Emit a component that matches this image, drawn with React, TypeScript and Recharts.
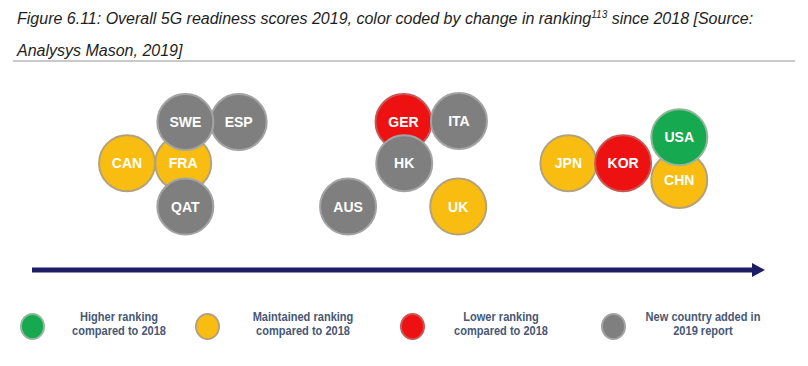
import { Legend, Scatter, ScatterChart, XAxis, YAxis } from "recharts";

// readiness position (x) and vertical placement (y)
const maintainedCountries = [
  { code: "FRA", x: 21.0, y: 53.4 },
  { code: "CAN", x: 13.2, y: 53.4 },
  { code: "UK", x: 59.2, y: 31.7 },
  { code: "JPN", x: 74.5, y: 53.4 },
  { code: "CHN", x: 89.9, y: 45.0 },
];
const lowerCountries = [
  { code: "GER", x: 51.6, y: 74.0 },
  { code: "KOR", x: 82.1, y: 53.4 },
];
const newCountries = [
  { code: "ESP", x: 28.7, y: 74.0 },
  { code: "SWE", x: 21.3, y: 74.0 },
  { code: "QAT", x: 21.3, y: 31.7 },
  { code: "ITA", x: 59.3, y: 74.5 },
  { code: "HK", x: 51.7, y: 53.4 },
  { code: "AUS", x: 43.9, y: 31.7 },
];
const higherCountries = [{ code: "USA", x: 89.9, y: 66.4 }];

const legendKeys = ["higher", "maintained", "lower", "new"];
const legendLines = [
  ["Higher ranking", "compared to 2018"],
  ["Maintained ranking", "compared to 2018"],
  ["Lower ranking", "compared to 2018"],
  ["New country added in", "2019 report"],
];

const COLORS: Record<string, string> = {
  higher: "#17a94f",
  maintained: "#f9bd12",
  lower: "#ee1111",
  new: "#7f7f7f",
};
const BORDERS: Record<string, string> = {
  higher: "#8fb79c",
  maintained: "#b3a27a",
  lower: "#c95555",
  new: "#a3a3a3",
};

// legend item placement (px)
const legendDotX = [32, 207, 412, 613];
const legendTextX = [119, 303, 501, 703];

const W = 808;
const H = 366;

function bubble(kind: string) {
  return (props: any) => {
    const { cx, cy, payload } = props;
    return (
      <g>
        <circle cx={cx} cy={cy} r={28} fill={COLORS[kind]} stroke={BORDERS[kind]} strokeWidth={2} />
        <text
          x={cx}
          y={cy}
          textAnchor="middle"
          dominantBaseline="central"
          fill="#ffffff"
          fontSize={14}
          fontWeight={700}
          fontFamily="'Liberation Sans', Arial, sans-serif"
        >
          {payload.code}
        </text>
      </g>
    );
  };
}

function LegendBlock() {
  return (
    <div style={{ position: "relative", width: W, height: 50 }}>
      {legendKeys.map((k, i) => (
        <div key={k}>
          <div
            style={{
              position: "absolute",
              left: legendDotX[i] - 12,
              top: 13,
              width: 21,
              height: 23,
              borderRadius: "50%",
              background: COLORS[k],
              border: `2px solid ${BORDERS[k]}`,
            }}
          />
          <div
            style={{
              position: "absolute",
              left: legendTextX[i] - 80,
              top: 10,
              width: 160,
              textAlign: "center",
              fontFamily: "'Liberation Sans', Arial, sans-serif",
              fontWeight: 700,
              fontSize: 13,
              lineHeight: "14px",
              color: "#475875",
              transform: "scaleX(0.85)",
            }}
          >
            {legendLines[i][0]}
            <br />
            {legendLines[i][1]}
          </div>
        </div>
      ))}
    </div>
  );
}

export default function App() {
  return (
    <div style={{ position: "relative", width: W, height: H, background: "#fff", overflow: "hidden" }}>
      <style>{`body{margin:0}`}</style>
      <div
        style={{
          position: "absolute",
          left: 17,
          top: 4,
          fontFamily: "'Liberation Sans', Arial, sans-serif",
          fontStyle: "italic",
          fontSize: 16,
          lineHeight: "30px",
          color: "#1e1e1e",
          whiteSpace: "nowrap",
        }}
      >
        Figure 6.11: Overall 5G readiness scores 2019, color coded by change in ranking
        <span style={{ fontSize: 10, position: "relative", top: -6 }}>113</span> since 2018 [Source:
        <br />
        Analysys Mason, 2019]
      </div>
      <div style={{ position: "absolute", left: 13, top: 60, width: 782, height: 2, background: "#c9c9c9" }} />
      <ScatterChart width={W} height={H} margin={{ top: 70, right: 56, bottom: 95, left: 32 }}>
        <defs>
          <marker id="arrowHead" markerUnits="userSpaceOnUse" markerWidth={14} markerHeight={14} refX={0} refY={7} orient="auto">
            <path d="M0,0 L13,7 L0,14 z" fill="#1d1d66" />
          </marker>
        </defs>
        <XAxis
          type="number"
          dataKey="x"
          domain={[0, 100]}
          height={1}
          tick={false}
          tickLine={false}
          axisLine={{ stroke: "#1d1d66", strokeWidth: 5, markerEnd: "url(#arrowHead)" }}
        />
        <YAxis type="number" dataKey="y" domain={[0, 100]} hide />
        <Scatter data={maintainedCountries} shape={bubble("maintained")} isAnimationActive={false} />
        <Scatter data={lowerCountries} shape={bubble("lower")} isAnimationActive={false} />
        <Scatter data={newCountries} shape={bubble("new")} isAnimationActive={false} />
        <Scatter data={higherCountries} shape={bubble("higher")} isAnimationActive={false} />
        <Legend
          verticalAlign="middle"
          align="center"
          layout="horizontal"
          content={() => <LegendBlock />}
          wrapperStyle={{ left: 0, top: 300, width: W, height: 50 }}
        />
      </ScatterChart>
    </div>
  );
}
